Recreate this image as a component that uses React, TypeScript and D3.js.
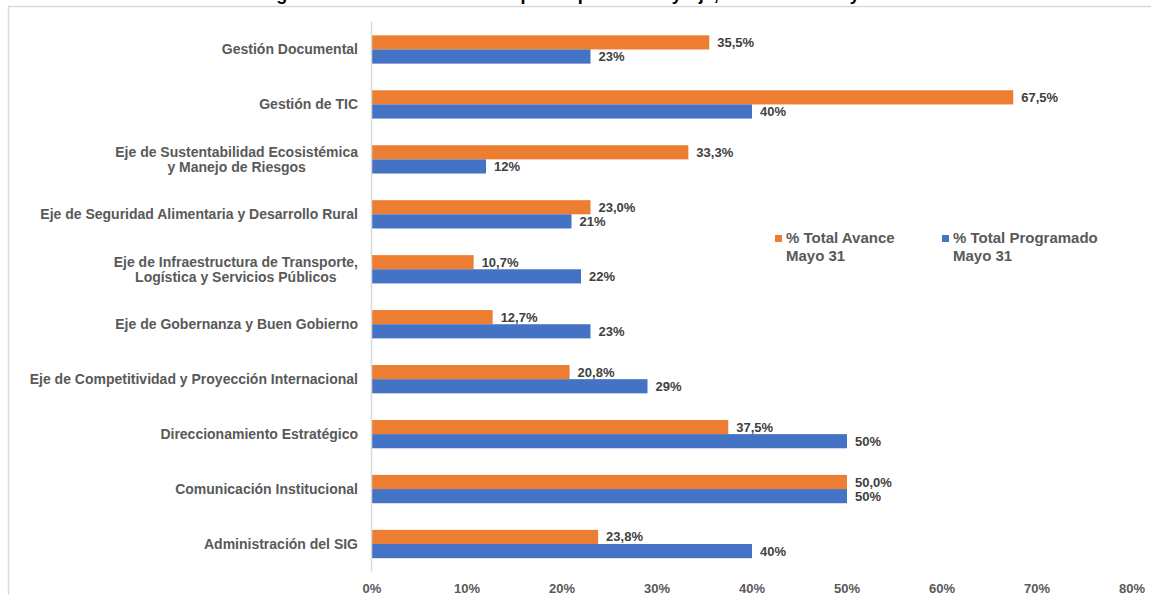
import { useEffect, useRef } from "react";
import * as d3 from "d3";

// categories, top to bottom (multi-line labels split on "|")
const categories = [
  "Gestión Documental",
  "Gestión de TIC",
  "Eje de Sustentabilidad Ecosistémica|y Manejo de Riesgos",
  "Eje de Seguridad Alimentaria y Desarrollo Rural",
  "Eje de Infraestructura de Transporte,|Logística y Servicios Públicos",
  "Eje de Gobernanza y Buen Gobierno",
  "Eje de Competitividad y Proyección Internacional",
  "Direccionamiento Estratégico",
  "Comunicación Institucional",
  "Administración del SIG",
];

const avance = [35.5, 67.5, 33.3, 23.0, 10.7, 12.7, 20.8, 37.5, 50.0, 23.8];
const programado = [23, 40, 12, 21, 22, 23, 29, 50, 50, 40];

const seriesNames = ["% Total Avance|Mayo 31", "% Total Programado|Mayo 31"];
const seriesColors = ["#ED7D31", "#4472C4"];
const xTicks = [0, 10, 20, 30, 40, 50, 60, 70, 80];

const title =
  "Seguimiento al Plan de Acción por Dependencia y Eje, con corte a Mayo 31";

function Chart() {
  const ref = useRef<SVGSVGElement | null>(null);

  useEffect(() => {
    const width = 1151;
    const height = 595;
    const font = "'Liberation Sans', Arial, sans-serif";
    const svg = d3.select(ref.current);
    svg.selectAll("*").remove();

    svg
      .append("rect")
      .attr("width", width)
      .attr("height", height)
      .attr("fill", "#FFFFFF");

    // chart area border (only left and top are in the picture)
    svg
      .append("path")
      .attr("d", `M8.5,${height} V6.5 H${width}`)
      .attr("fill", "none")
      .attr("stroke", "#D9D9D9")
      .attr("stroke-width", 1.5);

    // title, cut off at the top of the picture
    svg
      .append("text")
      .attr("x", 575)
      .attr("y", 0)
      .attr("text-anchor", "middle")
      .attr("font-family", font)
      .attr("font-weight", "bold")
      .attr("font-size", "18px")
      .attr("fill", "#000000")
      .text(title);

    const x = d3.scaleLinear([0, 80], [372, 1132]);
    const y = d3
      .scaleBand<string>()
      .domain(categories)
      .range([22, 571.5])
      .paddingInner(0.485)
      .paddingOuter(0.2425);
    const ySub = d3
      .scaleBand<number>()
      .domain([0, 1])
      .range([0, y.bandwidth()]);

    const rows = categories.map((c, i) => ({
      cat: c,
      values: [avance[i], programado[i]],
    }));

    // bars
    const groups = svg
      .selectAll("g.row")
      .data(rows)
      .enter()
      .append("g")
      .attr("class", "row")
      .attr("transform", (d) => `translate(0,${y(d.cat)})`);

    groups
      .selectAll("rect")
      .data((d) => d.values.map((v, s) => ({ v, s })))
      .enter()
      .append("rect")
      .attr("x", x(0))
      .attr("y", (d) => ySub(d.s)!)
      .attr("width", (d) => x(d.v) - x(0))
      .attr("height", ySub.bandwidth())
      .attr("fill", (d) => seriesColors[d.s]);

    // data labels
    groups
      .selectAll("text.val")
      .data((d) => d.values.map((v, s) => ({ v, s })))
      .enter()
      .append("text")
      .attr("class", "val")
      .attr("x", (d) => x(d.v) + 8)
      .attr("y", (d) => ySub(d.s)! + ySub.bandwidth() / 2 + 4.5)
      .attr("font-family", font)
      .attr("font-weight", "bold")
      .attr("font-size", "13px")
      .attr("fill", "#404040")
      .text((d) =>
        d.s === 0 ? d.v.toFixed(1).replace(".", ",") + "%" : d.v + "%"
      );

    // vertical axis line
    svg
      .append("line")
      .attr("x1", x(0) - 0.5)
      .attr("x2", x(0) - 0.5)
      .attr("y1", 22)
      .attr("y2", 571.5)
      .attr("stroke", "#D9D9D9")
      .attr("stroke-width", 1.5);

    // category labels
    rows.forEach((d) => {
      const lines = d.cat.split("|");
      const cy = y(d.cat)! + y.bandwidth() / 2;
      const g = svg.append("g");
      const texts = lines.map((line, i) =>
        g
          .append("text")
          .attr("y", cy + 5 + (i - (lines.length - 1) / 2) * 15)
          .attr("text-anchor", "middle")
          .attr("font-family", font)
          .attr("font-weight", "bold")
          .attr("font-size", "14px")
          .attr("fill", "#595959")
          .text(line)
      );
      const widths = texts.map((t) => (t.node() as SVGTextElement).getComputedTextLength());
      const maxW = d3.max(widths) || 0;
      texts.forEach((t) => t.attr("x", 358 - maxW / 2));
    });

    // x tick labels
    svg
      .selectAll("text.tick")
      .data(xTicks)
      .enter()
      .append("text")
      .attr("class", "tick")
      .attr("x", (d) => x(d))
      .attr("y", 593)
      .attr("text-anchor", "middle")
      .attr("font-family", font)
      .attr("font-weight", "bold")
      .attr("font-size", "13px")
      .attr("fill", "#595959")
      .text((d) => d + "%");

    // legend
    const legendX = [775, 942];
    seriesNames.forEach((name, s) => {
      svg
        .append("rect")
        .attr("x", legendX[s])
        .attr("y", 235)
        .attr("width", 7)
        .attr("height", 7)
        .attr("fill", seriesColors[s]);
      name.split("|").forEach((line, i) => {
        svg
          .append("text")
          .attr("x", legendX[s] + 11)
          .attr("y", 243 + i * 18)
          .attr("font-family", font)
          .attr("font-weight", "bold")
          .attr("font-size", "15px")
          .attr("fill", "#595959")
          .attr("xml:space", "preserve")
          .text(line);
      });
    });
  }, []);

  return (
    <svg
      ref={ref}
      width={1151}
      height={595}
      style={{ position: "absolute", left: 0, top: 0, display: "block" }}
    />
  );
}

export default function App() {
  return <Chart />;
}
